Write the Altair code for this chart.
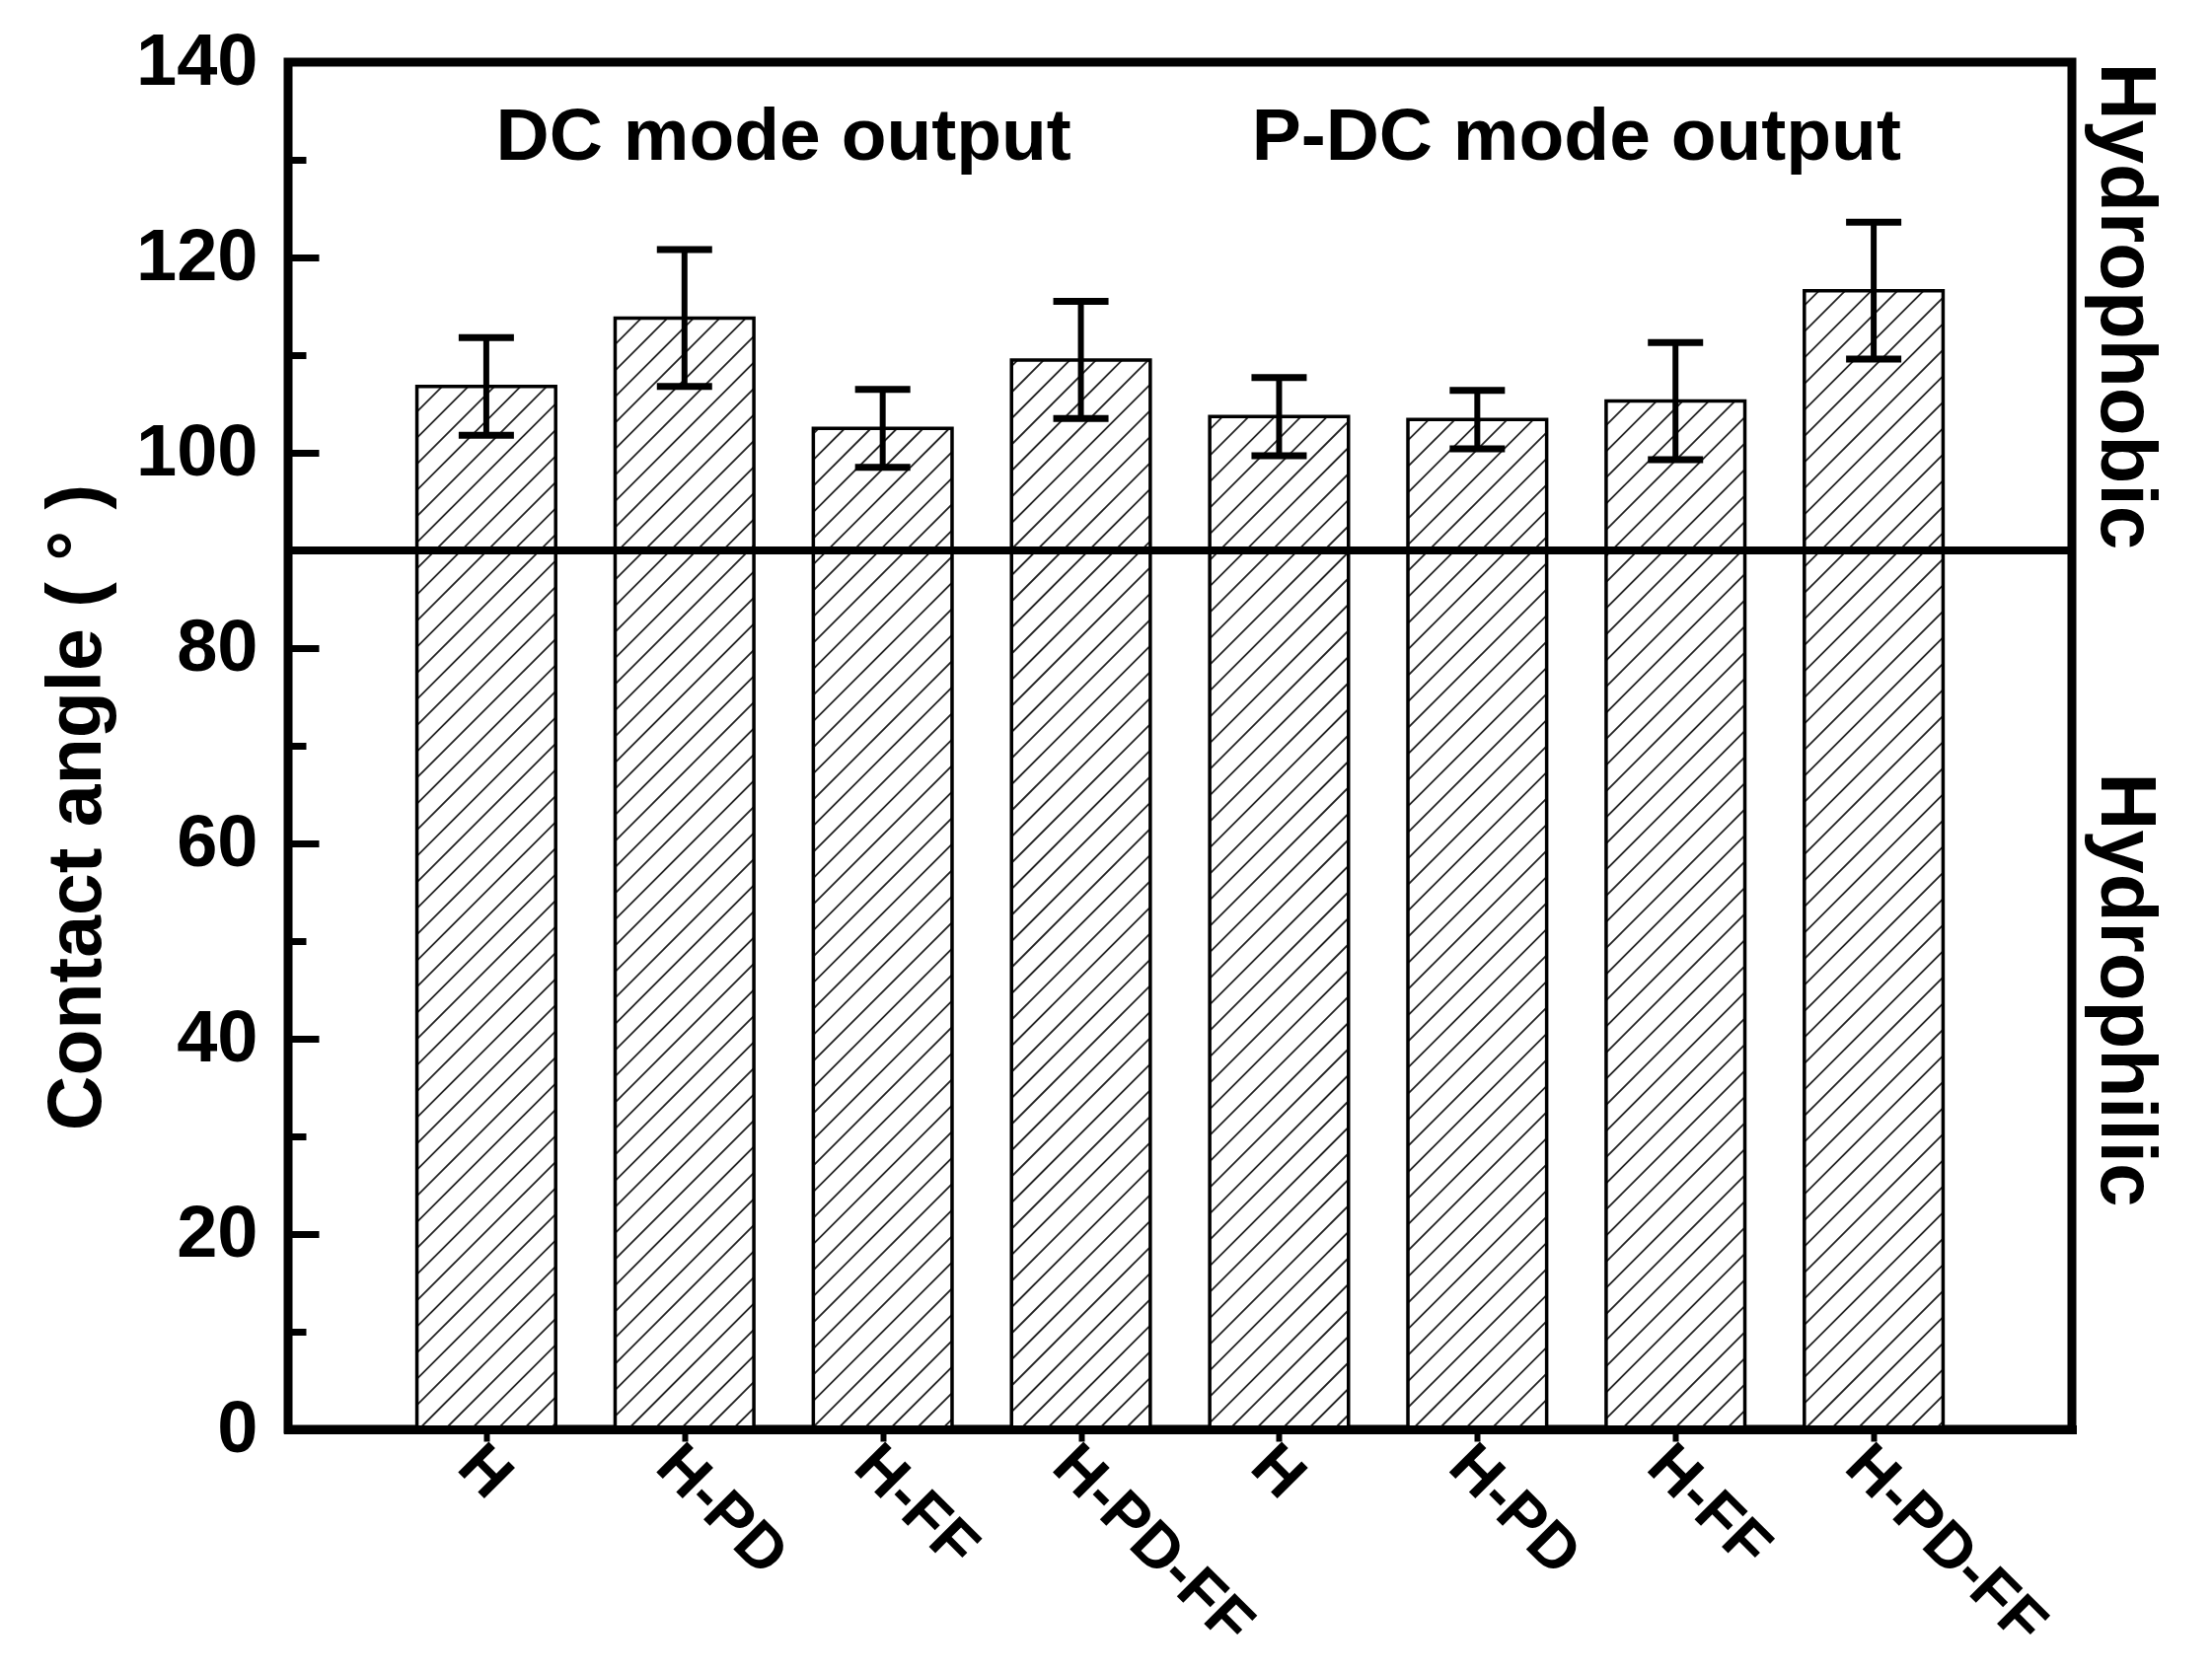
import altair as alt
import numpy as np
import pandas as pd

# ---------------- data ----------------
samples = ["H", "H-PD", "H-FF", "H-PD-FF", "H", "H-PD", "H-FF", "H-PD-FF"]
modes = ["DC mode output"] * 4 + ["P-DC mode output"] * 4
contact_angle = [106.8, 113.8, 102.5, 109.5, 103.7, 103.4, 105.3, 116.6]
angle_error = [5.0, 7.0, 4.0, 6.0, 4.0, 3.0, 6.0, 7.0]
threshold = 90
regions = ["Hydrophobic", "Hydrophilic"]
y_major = [0, 20, 40, 60, 80, 100, 120, 140]
y_minor = [10, 30, 50, 70, 90, 110, 130]

# ---------------- layout / style ----------------
W, H = 1808, 1386
X_MAX, Y_MAX = 9, 140
BAR_W = 0.7
HATCH = 26.5  # horizontal spacing of hatch lines, px
FONT = "Liberation Sans"

pos = list(range(1, len(samples) + 1))
df = pd.DataFrame({"pos": pos, "sample": samples, "mode": modes,
                   "angle": contact_angle, "err": angle_error})
df["base"] = 0
df["x0"] = df["pos"] - BAR_W / 2
df["x1"] = df["pos"] + BAR_W / 2
df["lo"] = df["angle"] - df["err"]
df["hi"] = df["angle"] + df["err"]

# hatch segments (45 deg in pixel space) clipped to each bar
sx, sy = W / X_MAX, H / Y_MAX
rows = []
for _, r in df.iterrows():
    X0, X1, Yt = r.x0 * sx, r.x1 * sx, r.angle * sy
    k0 = int(np.ceil(-X1 / HATCH))
    k1 = int(np.floor((Yt - X0) / HATCH))
    for k in range(k0, k1 + 1):
        c = k * HATCH
        xs_ = max(X0, -c)
        xe_ = min(X1, Yt - c)
        if xe_ - xs_ > 0.5:
            rows.append({"hx": xs_ / sx, "hy": (xs_ + c) / sy,
                         "hx2": xe_ / sx, "hy2": (xe_ + c) / sy})
hatch = pd.DataFrame(rows)

xscale = alt.Scale(domain=[0, X_MAX], nice=False, zero=False)
yscale = alt.Scale(domain=[0, Y_MAX], nice=False)

label_expr = "[" + ",".join("'%s'" % s for s in samples) + "][datum.value - 1]"

x_axis = alt.Axis(orient="bottom", values=pos, labelExpr=label_expr, labelAngle=45,
                  labelAlign="left", labelBaseline="top", labelFont=FONT,
                  labelFontSize=64, labelFontWeight="bold", labelColor="black",
                  labelPadding=-8, labelOffset=4, labelOverlap=False, labelFlush=False,
                  labelLimit=1000,
                  tickSize=12, tickWidth=6, tickColor="black",
                  domain=True, domainColor="black", domainWidth=9, domainCap="square",
                  grid=False, title=None, zindex=1)

y_axis = alt.Axis(orient="left", values=y_major, offset=-31, tickSize=31, tickWidth=7,
                  tickColor="black", domain=False, grid=False, labelFont=FONT,
                  labelFontSize=74, labelFontWeight="bold", labelColor="black",
                  labelPadding=31, labelOverlap=False, labelLimit=1000,
                  title="Contact angle (\u00a0\u00b0\u00a0)", titleFont=FONT,
                  titleFontSize=77, titleFontWeight="bold", titleColor="black",
                  titleAngle=270, titleAlign="center", titleBaseline="alphabetic",
                  titleX=-222, titleY=755, titleLimit=2000, zindex=1)

y_minor_axis = alt.Axis(orient="left", values=y_minor, offset=-18, tickSize=18,
                        tickWidth=7, tickColor="black", domain=False, grid=False,
                        labels=False, title=None)

base = alt.Chart(df)

bars = base.mark_bar(fill="white", opacity=1, strokeWidth=0).encode(
    x=alt.X("x0:Q", scale=xscale, axis=x_axis), x2="x1",
    y=alt.Y("angle:Q", scale=yscale, axis=y_axis), y2="base")

hatch_layer = alt.Chart(hatch).mark_rule(color="#222222", strokeWidth=1.8).encode(
    x=alt.X("hx:Q", scale=xscale, axis=None), x2="hx2",
    y=alt.Y("hy:Q", scale=yscale, axis=None), y2="hy2")

outline = base.mark_bar(filled=False, stroke="black", strokeWidth=3.5, opacity=1).encode(
    x=alt.X("x0:Q", scale=xscale, axis=None), x2="x1",
    y=alt.Y("angle:Q", scale=yscale, axis=None), y2="base")

err_rule = base.mark_rule(color="black", strokeWidth=6).encode(
    x=alt.X("pos:Q", scale=xscale, axis=None),
    y=alt.Y("lo:Q", scale=yscale, axis=y_minor_axis), y2="hi")

caps = base.transform_fold(["lo", "hi"], as_=["end", "val"]).mark_tick(
    color="black", orient="horizontal", size=56, thickness=7, opacity=1).encode(
    x=alt.X("pos:Q", scale=xscale, axis=None),
    y=alt.Y("val:Q", scale=yscale, axis=None))

thr = alt.Chart(pd.DataFrame({"t": [threshold]})).mark_rule(
    color="black", strokeWidth=8).encode(y=alt.Y("t:Q", scale=yscale, axis=None))

mode_df = df.groupby("mode", sort=False)["pos"].mean().reset_index()
mode_df["ty"] = 130
mode_text = alt.Chart(mode_df).mark_text(
    font=FONT, fontSize=75, fontWeight="bold", color="black",
    align="center", baseline="alphabetic").encode(
    x=alt.X("pos:Q", scale=xscale, axis=None),
    y=alt.Y("ty:Q", scale=yscale, axis=None), text="mode:N")

region_df = pd.DataFrame({"region": regions, "rx": [9.15, 9.15],
                          "ry": [(threshold + Y_MAX) / 2, threshold / 2]})
region_text = alt.Chart(region_df).mark_text(
    font=FONT, fontSize=80, fontWeight="bold", color="black", angle=90,
    align="center", baseline="alphabetic").encode(
    x=alt.X("rx:Q", scale=xscale, axis=None),
    y=alt.Y("ry:Q", scale=yscale, axis=None), text="region:N")

chart = alt.layer(
    bars, hatch_layer, outline, err_rule, caps, thr, mode_text, region_text
).resolve_axis(x="independent", y="independent").properties(
    width=W, height=H,
    autosize=alt.AutoSizeParams(type="none"),
    padding={"left": 284, "top": 55, "right": 130, "bottom": 236},
    background="white",
).configure_view(stroke="black", strokeWidth=9)

chart.save("out.html", embed_options={"renderer": "svg", "actions": False})
